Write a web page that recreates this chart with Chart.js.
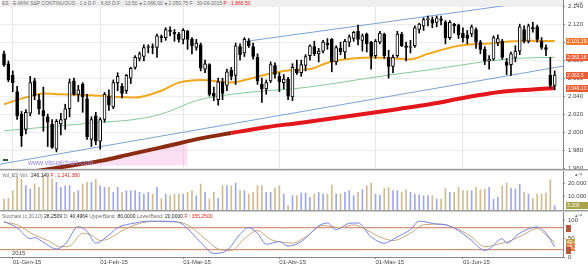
<!DOCTYPE html>
<html lang="es">
<head>
<meta charset="utf-8">
<title>ES - E-MINI S&amp;P CONTINUOUS</title>
<script src="https://cdn.jsdelivr.net/npm/chart.js@4.4.1/dist/chart.umd.min.js"></script>
<style>
  html, body { margin: 0; padding: 0; background: #fff; }
  #wrap { position: relative; width: 588px; height: 264px; overflow: hidden;
          font-family: 'Liberation Sans', Arial, sans-serif; }
  canvas { position: absolute; left: 0; }
  .sep { position: absolute; left: 0; width: 588px; height: 2px; background: #d0d0d0;
         border-top: 1px solid #9a9a9a; box-sizing: border-box; }
  .hdr { position: absolute; left: 2px; font-size: 5px; line-height: 6px; color: #707070; white-space: nowrap; }
  .hdr b { font-weight: normal; color: #222; }
  .hdr .r { color: #e2231a; }
  #mainHdr { top: 0; width: 561px; background: #efefef; }
  .icons { position: absolute; left: 575px; font-size: 5px; line-height: 5px; color: #666; }
  #wm { position: absolute; left: 28px; top: 159px; font-size: 7px; color: #9b86e0; }
  #year { position: absolute; left: 12px; top: 250px; font-size: 6px; color: #444; }
  #mark { position: absolute; left: 3px; top: 159px; width: 5px; height: 2px; background: #2e5e2e; }
</style>
</head>
<body>
<div id="wrap">
  <canvas id="priceChart" width="588" height="169" style="top:0"></canvas>
  <div class="sep" style="top:169px"></div>
  <canvas id="volChart" width="588" height="39" style="top:171px"></canvas>
  <div class="sep" style="top:210px"></div>
  <canvas id="stochChart" width="588" height="52" style="top:212px"></canvas>

  <div class="hdr" id="mainHdr">ES - E-MINI S&amp;P CONTINUOUS - 1 d D.F. : 6,63 D.F. : 13,50 &#9679; 2.066,00 &#9679; 2.050,75 F : 30-06-2015 <span class="r">P : 1.866,50</span></div>
  <div class="hdr" style="top:172px">Vol_ES Vol.: <b>246.149</b> <span class="r">F : 1.241.380</span></div>
  <div class="hdr" style="top:213px">Stochast (c,20,10) <b>28,2509</b> D: <b>40,4964</b> UpperBand: <b>80,0000</b> LowerBand: <b>20,0000</b> <span class="r">F : 355,2500</span></div>
  <div class="icons" style="top:1px">&#9652;&#9643;&#215;</div>
  <div class="icons" style="top:172px">&#9652;&#9643;&#215;</div>
  <div class="icons" style="top:213px">&#9652;&#9643;&#215;</div>
  <div id="wm">www.visualchart.com</div>
  <div id="mark"></div>
  <div id="year">2015</div>
</div>

<script>
// Eje temporal: indice de sesion (0 = 30-12-2014 ... 126 = 30-06-2015)
const monthTicks = [2, 22, 41, 63, 85, 105];
const monthLabels = ['01-Gen-15', '01-Feb-15', '01-Mar-15', '01-Abr-15', '01-May-15', '01-Jun-15'];

// Velas diarias
const opens = [
  2087, 2076, 2063, 2045, 2020, 2003, 2021, 2057, 2036, 2024, 2017, 2009, 1981, 2009, 2014, 2026, 2057, 2042, 2053, 2037,
  1992, 2018, 1990, 2014, 2040, 2028, 2055, 2051, 2046, 2060, 2072, 2082, 2084, 2094, 2095, 2094, 2106, 2105, 2113, 2111,
  2109, 2103, 2112, 2103, 2094, 2097, 2070, 2075, 2043, 2036, 2056, 2052, 2069, 2063, 2095, 2088, 2101, 2095, 2083, 2053,
  2048, 2057, 2074, 2062, 2055, 2059, 2039, 2070, 2066, 2074, 2085, 2095, 2087, 2090, 2099, 2103, 2078, 2093, 2089, 2100,
  2104, 2112, 2102, 2109, 2100, 2085, 2100, 2109, 2083, 2073, 2085, 2109, 2096, 2094, 2096, 2114, 2118, 2125, 2125, 2122,
  2126, 2122, 2105, 2120, 2119, 2110, 2108, 2109, 2114, 2100, 2092, 2079, 2081, 2099, 2101, 2078, 2075, 2083, 2090, 2114,
  2101, 2116, 2117, 2101, 2094, 2063, 2052
];
const highs = [
  2090, 2079, 2068, 2051, 2023, 2025, 2062, 2060, 2042, 2050, 2020, 2014, 2014, 2021, 2031, 2059, 2060, 2052, 2055, 2042,
  2017, 2022, 2016, 2044, 2047, 2058, 2066, 2054, 2064, 2072, 2085, 2089, 2097, 2097, 2098, 2109, 2108, 2116, 2117, 2114,
  2111, 2115, 2113, 2105, 2103, 2099, 2080, 2076, 2050, 2060, 2060, 2070, 2072, 2099, 2098, 2105, 2104, 2099, 2087, 2060,
  2058, 2078, 2077, 2066, 2064, 2061, 2076, 2080, 2080, 2086, 2097, 2101, 2093, 2102, 2104, 2104, 2096, 2100, 2103, 2108,
  2112, 2119, 2109, 2110, 2101, 2103, 2112, 2110, 2091, 2086, 2112, 2111, 2100, 2102, 2118, 2121, 2127, 2129, 2128, 2129,
  2129, 2124, 2124, 2121, 2120, 2116, 2113, 2119, 2116, 2102, 2095, 2085, 2107, 2108, 2103, 2082, 2089, 2096, 2120, 2118,
  2120, 2122, 2119, 2105, 2097, 2083, 2068
];
const lows = [
  2073, 2056, 2045, 2014, 1984, 1998, 2018, 2036, 2020, 2001, 1984, 1982, 1978, 1997, 2003, 2017, 2041, 2034, 2022, 1992,
  1984, 1986, 1981, 2011, 2024, 2026, 2046, 2038, 2043, 2054, 2070, 2079, 2079, 2088, 2087, 2083, 2100, 2102, 2107, 2101,
  2100, 2098, 2092, 2087, 2091, 2068, 2066, 2040, 2035, 2030, 2036, 2046, 2058, 2053, 2080, 2084, 2094, 2081, 2053, 2033,
  2042, 2055, 2060, 2045, 2048, 2036, 2035, 2064, 2062, 2068, 2080, 2085, 2078, 2088, 2092, 2067, 2075, 2086, 2082, 2095,
  2101, 2097, 2090, 2089, 2070, 2082, 2098, 2082, 2060, 2066, 2083, 2095, 2079, 2088, 2094, 2110, 2113, 2118, 2116, 2117,
  2119, 2098, 2103, 2110, 2104, 2100, 2098, 2106, 2093, 2087, 2075, 2070, 2080, 2096, 2081, 2064, 2063, 2078, 2086, 2099,
  2099, 2111, 2100, 2092, 2085, 2049, 2047
];
const closes = [
  2075, 2058, 2055, 2018, 1996, 2022, 2055, 2040, 2026, 2018, 2011, 1983, 2012, 2014, 2026, 2055, 2042, 2047, 2039, 1995,
  2014, 1990, 2014, 2042, 2030, 2055, 2062, 2043, 2063, 2071, 2083, 2087, 2094, 2095, 2094, 2107, 2105, 2114, 2112, 2109,
  2103, 2113, 2103, 2096, 2099, 2071, 2076, 2042, 2040, 2056, 2043, 2067, 2062, 2096, 2086, 2103, 2096, 2084, 2057, 2048,
  2055, 2075, 2064, 2056, 2059, 2040, 2072, 2066, 2075, 2084, 2096, 2087, 2090, 2100, 2097, 2078, 2094, 2089, 2101, 2106,
  2111, 2103, 2107, 2098, 2084, 2101, 2110, 2085, 2073, 2083, 2109, 2096, 2094, 2095, 2116, 2120, 2125, 2125, 2121, 2127,
  2124, 2105, 2122, 2118, 2108, 2105, 2104, 2117, 2100, 2092, 2079, 2081, 2105, 2104, 2083, 2074, 2087, 2090, 2117, 2101,
  2118, 2115, 2103, 2094, 2092, 2052, 2063.5
];

// Volumen
const volumes = [
  8100, 8600, 14300, 24200, 22900, 18000, 15500, 19200, 16800, 25400, 24200, 22900, 20500, 16800, 18000, 18000, 13100, 14300, 19200, 20500,
  20500, 22900, 18000, 16800, 16800, 13100, 16800, 13100, 14300, 14300, 14300, 13100, 11800, 13100, 11800, 16800, 8600, 11800, 10600, 11800,
  11800, 11800, 13100, 14300, 10600, 19200, 13100, 8100, 13100, 8600, 18000, 18000, 18000, 20000, 14300, 14300, 11800, 13100, 18000, 18000,
  13100, 13100, 16000, 18000, 11800, 3200, 10600, 10600, 12600, 12600, 9400, 11800, 13100, 11800, 11800, 18500, 11800, 11800, 13100, 14300,
  10600, 13100, 15000, 18000, 20000, 11800, 11100, 16000, 16800, 14300, 14300, 13100, 15000, 13100, 11800, 11100, 10600, 10600, 10600, 8100,
  8100, 16000, 13100, 13100, 16800, 14300, 14300, 14300, 16800, 15000, 15500, 16800, 8100, 9400, 18000, 20000, 16000, 15500, 19200, 13100,
  11800, 8600, 11800, 11800, 12600, 22400, 3200
];
const volTicks = [10000, 20000];

const maOrangeIdx = [0, 6, 9, 13, 20, 26, 30, 36, 40, 45, 52, 56, 60, 66, 70, 74, 78, 84, 89, 93, 97, 104, 111, 119, 126];
const maOrangeVal = [2031, 2040, 2043, 2042, 2041, 2039, 2038.5, 2046, 2055, 2058, 2055, 2059, 2064, 2069, 2070, 2077, 2081, 2083, 2082, 2081, 2087, 2096, 2098.5, 2101.4, 2101.19];
const maGreenIdx = [0, 13, 22, 29, 36, 44, 52, 60, 66, 74, 82, 89, 97, 104, 111, 118, 126];
const maGreenVal = [2001.5, 2007, 2011, 2013.5, 2020, 2035, 2042, 2046, 2048, 2053, 2059, 2064, 2069, 2074, 2079, 2082, 2083.18];
const maRedIdx = [0, 13, 22, 29, 36, 45, 52, 60, 68, 77, 90, 98, 104, 111, 118, 126];
const maRedVal = [1951, 1961, 1968, 1975.5, 1983, 1993, 1999, 2005.5, 2010.5, 2016.5, 2025.5, 2031.5, 2037, 2043, 2046.5, 2049.13];

// Mancha rosa del logotipo bajo la media larga
const logoIdx = [18, 22, 29, 36, 42];
const logoVal = [1965, 1968, 1975.5, 1983, 1989];
const logoBase = 1963;

// Canal
const chanUpperIdx = [55, 128];
const chanUpperVal = [2100.6, 2149.5];
const chanLowerIdx = [-0.9, 127.9];
const chanLowerVal = [1964.4, 2073.3];

// Estocastico
const stochKIdx = [0, 3, 6, 7, 9, 12, 14, 17, 19, 21, 24, 26, 30, 33, 39, 41, 45, 48, 51, 54, 56, 58, 60, 63, 65, 68, 72, 74, 76, 79, 81, 84, 87, 90, 93, 95, 99, 101, 104, 107, 110, 111, 114, 115, 118, 122, 124, 126];
const stochKVal = [97, 80, 50, 53, 40, 22, 35, 83, 70, 38, 60, 80, 93, 98, 97, 88, 40, 10, 18, 62, 80, 65, 35, 42, 30, 42, 85, 93, 75, 92, 93, 55, 38, 55, 75, 98, 90, 88, 72, 45, 18, 22, 50, 38, 65, 82, 65, 28.25];
const stochDIdx = [0, 3, 7, 10, 13, 15, 18, 20, 22, 24, 27, 30, 34, 39, 42, 46, 49, 52, 55, 58, 61, 64, 66, 69, 73, 77, 80, 82, 86, 89, 93, 96, 100, 104, 107, 110, 113, 116, 119, 122, 124, 126];
const stochDVal = [95, 88, 60, 45, 28, 30, 65, 60, 45, 50, 72, 88, 97, 96, 88, 50, 22, 18, 50, 72, 48, 40, 38, 55, 86, 80, 88, 80, 55, 45, 65, 88, 90, 75, 55, 28, 35, 45, 62, 78, 60, 40.4];
const stochTicks = [0, 50, 100];
const upperBand = 80;
const lowerBand = 20;

const FONT = "'Liberation Sans', Arial, sans-serif";
const X_MIN = -0.92, X_MAX = 127.9;
const AXIS_W = 25;

Chart.defaults.font.family = FONT;
Chart.defaults.font.size = 6;
Chart.defaults.color = '#444';

const fmt = v => Number(v).toLocaleString('de-DE');
const pts = (xs, ys) => xs.map((x, i) => ({ x: x, y: ys[i] }));
const isUp = i => closes[i] >= opens[i];
const setTicks = list => s => { s.ticks = list.map(v => ({ value: v })); };

// Fix widths so all panes share the same plot area
function fitY(s) {
    s.width = AXIS_W;
    s.paddingTop = 0;
    s.paddingBottom = 0;
}

function timeAxis(withLabels, gridColor) {
    return {
        type: 'linear',
        min: X_MIN,
        max: X_MAX,
        offset: false,
        afterBuildTicks: setTicks(monthTicks),
        afterFit: s => {
            s.height = withLabels ? 7 : 0;
            s.paddingLeft = 0;
            s.paddingRight = 0;
        },
        grid: {
            offset: false,
            color: gridColor || '#888',
            drawOnChartArea: !!gridColor,
            drawTicks: withLabels,
            tickLength: 2,
            tickColor: '#888'
        },
        border: { display: withLabels, color: '#888' },
        ticks: {
            display: withLabels,
            autoSkip: false,
            maxRotation: 0,
            align: 'start',
            padding: 0,
            color: '#444',
            callback: v => monthLabels[monthTicks.indexOf(v)] || ''
        }
    };
}

// Etiquetas de valor en el eje derecho
const valueTags = {
    id: 'valueTags',
    afterDraw(chart, args, opts) {
        const s = chart.scales.y;
        const ctx = chart.ctx;
        (opts.items || []).forEach(t => {
            const y = Math.round(s.getPixelForValue(t.value));
            ctx.save();
            ctx.fillStyle = t.bg;
            ctx.fillRect(s.left + 3, y - 3, t.w || 22, 7);
            ctx.fillStyle = t.fg || '#fff';
            ctx.font = '5px ' + FONT;
            ctx.textBaseline = 'middle';
            ctx.fillText(t.text, s.left + 4, y + 0.5);
            ctx.restore();
        });
    }
};

const baseOpts = {
    responsive: false,
    animation: false,
    devicePixelRatio: 1,
    events: [],
    layout: { padding: 0 },
    plugins: { legend: { display: false }, tooltip: { enabled: false } }
};

// Price pane
new Chart(document.getElementById('priceChart'), {
    type: 'bar',
    data: {
        datasets: [
            {
                type: 'bar', label: 'cuerpo', order: 1, grouped: false,
                data: opens.map((o, i) => ({ x: i, y: [o, closes[i]] })),
                barThickness: 3, minBarLength: 1, borderSkipped: false,
                backgroundColor: ctx => isUp(ctx.dataIndex) ? '#ffffff' : '#000000',
                borderColor: '#000', borderWidth: 1
            },
            {
                type: 'bar', label: 'mecha', order: 2, grouped: false,
                data: highs.map((h, i) => ({ x: i, y: [lows[i], h] })),
                barThickness: 1, backgroundColor: '#000'
            },
            {
                type: 'line', label: 'MA corta', order: 3,
                data: pts(maOrangeIdx, maOrangeVal),
                borderColor: '#f2a81d', borderWidth: 2, pointRadius: 0, cubicInterpolationMode: 'monotone'
            },
            {
                type: 'line', label: 'MA media', order: 4,
                data: pts(maGreenIdx, maGreenVal),
                borderColor: '#86c99a', borderWidth: 1, pointRadius: 0, cubicInterpolationMode: 'monotone'
            },
            {
                type: 'line', label: 'MA larga', order: 4,
                data: pts(maRedIdx, maRedVal),
                borderColor: '#e3161b', borderWidth: 4, pointRadius: 0, cubicInterpolationMode: 'monotone',
                segment: { borderColor: c => c.p0.parsed.x < 50 ? '#8a2b12' : '#e3161b' }
            },
            {
                type: 'line', label: 'logo', order: 6,
                data: pts(logoIdx, logoVal),
                borderWidth: 0, pointRadius: 0, cubicInterpolationMode: 'monotone',
                fill: { target: { value: logoBase } }, backgroundColor: 'rgba(246, 176, 226, 0.4)'
            },
            {
                type: 'line', label: 'canal sup', order: 5,
                data: pts(chanUpperIdx, chanUpperVal),
                borderColor: '#7aa3d6', borderWidth: 1, pointRadius: 0
            },
            {
                type: 'line', label: 'canal inf', order: 5,
                data: pts(chanLowerIdx, chanLowerVal),
                borderColor: '#7aa3d6', borderWidth: 1, pointRadius: 0
            }
        ]
    },
    options: {
        ...baseOpts,
        scales: {
            x: timeAxis(false, '#e6e6e6'),
            y: {
                position: 'right', min: 1959, max: 2146.8,
                afterFit: fitY,
                ticks: { stepSize: 20, includeBounds: false, padding: 3, color: '#444', callback: fmt },
                grid: { color: '#ededed', tickLength: 2, tickColor: '#888' },
                border: { color: '#888' }
            }
        },
        plugins: {
            ...baseOpts.plugins,
            valueTags: {
                items: [
                    { value: 2101.19, text: '2.101,19', bg: '#f2762e' },
                    { value: 2083.18, text: '2.083,18', bg: '#f05a32' },
                    { value: 2063.5, text: '2.063,5', bg: '#f05a32' },
                    { value: 2049.13, text: '2.049,13', bg: '#f05a32' }
                ]
            }
        }
    },
    plugins: [valueTags]
});

// Volume pane
new Chart(document.getElementById('volChart'), {
    type: 'bar',
    data: {
        datasets: [{
            label: 'Vol', grouped: false,
            data: volumes.map((v, i) => ({ x: i, y: v })),
            barThickness: 1,
            backgroundColor: ctx => isUp(ctx.dataIndex) ? '#9ea8e6' : '#cfbb92'
        }]
    },
    options: {
        ...baseOpts,
        scales: {
            x: timeAxis(false, null),
            y: {
                position: 'right', min: 0, max: 28890,
                afterFit: fitY,
                afterBuildTicks: setTicks(volTicks),
                ticks: { padding: 3, color: '#444', callback: fmt },
                grid: { drawOnChartArea: false, tickLength: 2, tickColor: '#888' },
                border: { color: '#888' }
            }
        },
        plugins: {
            ...baseOpts.plugins,
            valueTags: { items: [{ value: 3700, text: '3.200', bg: '#a9a24a' }] }
        }
    },
    plugins: [valueTags]
});

// Stochastic pane
const fullSpan = v => [{ x: X_MIN, y: v }, { x: X_MAX, y: v }];
new Chart(document.getElementById('stochChart'), {
    type: 'line',
    data: {
        datasets: [
            { label: '%K', data: pts(stochKIdx, stochKVal), borderColor: '#7283e4', borderWidth: 1,
              pointRadius: 0, cubicInterpolationMode: 'monotone', order: 1 },
            { label: '%D', data: pts(stochDIdx, stochDVal), borderColor: '#caa57c', borderWidth: 1,
              pointRadius: 0, cubicInterpolationMode: 'monotone', order: 2 },
            { label: 'UpperBand', data: fullSpan(upperBand), borderColor: '#c9765a', borderWidth: 1, pointRadius: 0, order: 3 },
            { label: 'LowerBand', data: fullSpan(lowerBand), borderColor: '#c9765a', borderWidth: 1, pointRadius: 0, order: 3 }
        ]
    },
    options: {
        ...baseOpts,
        scales: {
            x: timeAxis(true, null),
            y: {
                position: 'right', min: 0, max: 123,
                afterFit: fitY,
                afterBuildTicks: setTicks(stochTicks),
                ticks: { padding: 3, color: '#444' },
                grid: { drawOnChartArea: false, tickLength: 2, tickColor: '#888' },
                border: { color: '#888' }
            }
        },
        plugins: {
            ...baseOpts.plugins,
            valueTags: {
                items: [
                    { value: upperBand, text: '', bg: '#b5573a', w: 5 },
                    { value: 40.4, text: '40,4', bg: '#c79a3c', w: 9 },
                    { value: 28.25, text: '28,2', bg: '#e07a3e', w: 9 },
                    { value: lowerBand, text: '', bg: '#b5573a', w: 5 }
                ]
            }
        }
    },
    plugins: [valueTags]
});
</script>
</body>
</html>
